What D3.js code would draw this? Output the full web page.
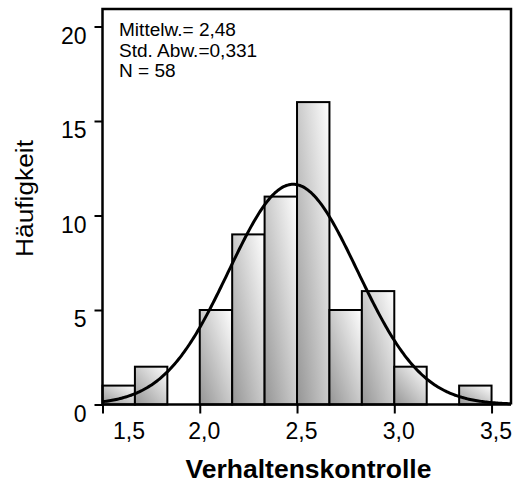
<!DOCTYPE html>
<html><head><meta charset="utf-8">
<script src="https://cdn.jsdelivr.net/npm/d3@7"></script>
<style>body{margin:0;background:#fff}svg{display:block}text{font-family:"Liberation Sans",Arial,sans-serif;fill:#000}</style>
</head><body>
<script>
const binStart = 1.5;
const binWidth = 1/6;
const counts = [1, 2, 0, 5, 9, 11, 16, 5, 6, 2, 0, 1];
const xTicks = [1.5, 2.0, 2.5, 3.0, 3.5];
const xTickLabels = ["1,5", "2,0", "2,5", "3,0", "3,5"];
const yTicks = [0, 5, 10, 15, 20];
const statsLines = ["Mittelw.= 2,48", "Std. Abw.=0,331", "N = 58"];
const mean = 2.48, sd = 0.331, n = 58;
const xTitle = "Verhaltenskontrolle";
const yTitle = "Häufigkeit";

const W = 518, H = 487;
const L = 102.5, R = 511, T = 9, B = 404.5;
const svg = d3.select("body").append("svg").attr("width", W).attr("height", H);

const x = d3.scaleLinear().domain([1.5, 3.6]).range([L, R]);
const y = d3.scaleLinear().domain([0, 20]).range([B, 26.5]);

const grad = svg.append("defs").append("linearGradient").attr("id", "g")
  .attr("x1", 0).attr("y1", 1).attr("x2", 1).attr("y2", 0);
grad.append("stop").attr("offset", "0%").attr("stop-color", "#959595");
grad.append("stop").attr("offset", "100%").attr("stop-color", "#ffffff");

const bins = counts.map((c, i) => ({x0: binStart + i * binWidth, x1: binStart + (i + 1) * binWidth, c}))
  .filter(d => d.c > 0);
svg.append("g").selectAll("rect").data(bins).join("rect")
  .attr("x", d => x(d.x0)).attr("width", d => x(d.x1) - x(d.x0))
  .attr("y", d => y(d.c)).attr("height", d => y(0) - y(d.c))
  .attr("fill", "url(#g)").attr("stroke", "#000").attr("stroke-width", 2);

// normal curve
const scaleN = n * binWidth / (sd * Math.sqrt(2 * Math.PI));
const pts = d3.range(0, 301).map(i => 1.5 + i * (3.6 - 1.5) / 300);
svg.append("path").datum(pts)
  .attr("d", d3.line().x(v => x(v)).y(v => y(scaleN * Math.exp(-0.5 * ((v - mean) / sd) ** 2))))
  .attr("fill", "none").attr("stroke", "#000").attr("stroke-width", 3);

// frame
svg.append("path").attr("d", `M${L},${B}V${T}H${R}V${B}`).attr("fill", "none").attr("stroke", "#000").attr("stroke-width", 2.5);
svg.append("line").attr("x1", L).attr("x2", R).attr("y1", B).attr("y2", B).attr("stroke", "#000").attr("stroke-width", 2.5);

// x axis
const xa = svg.append("g").attr("transform", `translate(0,${B})`)
  .call(d3.axisBottom(x).tickValues(xTicks).tickFormat((d, i) => xTickLabels[i]).tickSize(9).tickSizeOuter(0));
xa.select(".domain").remove();
xa.selectAll("line").attr("stroke", "#000").attr("stroke-width", 2);
xa.selectAll("text").attr("font-size", 23).attr("font-family", "Liberation Sans, Arial, sans-serif")
  .attr("y", 0).attr("dy", 0).attr("transform", (d, i) => `translate(${i === 0 ? 26 : 4},34)`);

// y axis
const ya = svg.append("g").attr("transform", `translate(${L},0)`)
  .call(d3.axisLeft(y).tickValues(yTicks).tickSize(8).tickSizeOuter(0));
ya.select(".domain").remove();
ya.selectAll("line").attr("stroke", "#000").attr("stroke-width", 2);
ya.selectAll("text").attr("font-size", 23).attr("font-family", "Liberation Sans, Arial, sans-serif")
  .attr("x", -16).attr("dy", 0).attr("y", 16.5);

// stats (reference font renders ~9% wider than Liberation Sans)
svg.append("g").selectAll("text").data(statsLines).join("text")
  .attr("x", 119).attr("y", (d, i) => 36 + i * 20.5).attr("font-size", 17.5)
  .text(d => d)
  .each(function() {
    const w = this.getComputedTextLength();
    d3.select(this).attr("textLength", w * 1.088).attr("lengthAdjust", "spacingAndGlyphs");
  });

// titles
const xt = svg.append("text").attr("x", 308.5).attr("y", 478).attr("text-anchor", "middle")
  .attr("font-size", 25).attr("font-weight", "bold").text(xTitle);
xt.attr("textLength", xt.node().getComputedTextLength() * 1.06).attr("lengthAdjust", "spacingAndGlyphs");
const yt = svg.append("text").attr("transform", "translate(33,198.5) rotate(-90)").attr("text-anchor", "middle")
  .attr("font-size", 23.5).text(yTitle);
yt.attr("textLength", yt.node().getComputedTextLength() * 1.12).attr("lengthAdjust", "spacingAndGlyphs");
</script>
</body></html>
